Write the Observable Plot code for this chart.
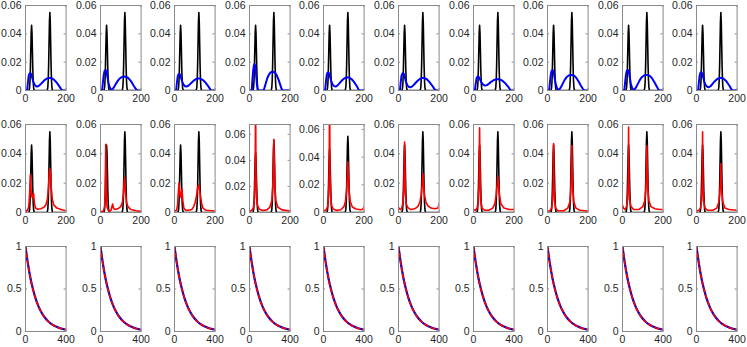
<!DOCTYPE html>
<html>
<head>
<meta charset="utf-8">
<script src="https://cdn.jsdelivr.net/npm/d3@7"></script>
<script src="https://cdn.jsdelivr.net/npm/@observablehq/plot@0.6"></script>
<style>
  html, body { margin: 0; padding: 0; background: #fff; }
  #chart { position: relative; width: 747px; height: 347px; overflow: hidden; background: #fff; }
  #chart svg { position: absolute; overflow: visible; }
</style>
</head>
<body>
<div id="chart"></div>
<script>
// ---------- data ----------
const yTicksDensity = [0, 0.02, 0.04, 0.06];
const xTicksDensity = [0, 200];
const yTicksDecay = [0, 0.5, 1];
const xTicksDecay = [0, 400];
const row2YMax = [0.06, 0.06, 0.06, 0.0675, 0.0636, 0.06, 0.06, 0.06, 0.06, 0.06];

// true density (black), shared in rows 1 and 2
const blackX = [0,16,18,20,22,24,26,28,30,32,34,36,38,40,42,44,106,108,110,112,114,116,118,120,122,124,126,128,130,132,134,200];
const blackY = [0,0,0.0005,0.0020,0.0062,0.0149,0.0279,0.0406,0.046,0.0406,0.0279,0.0149,0.0062,0.0020,0.0005,0,0,0.0006,0.0024,0.0074,0.0179,0.0334,0.0485,0.055,0.0485,0.0334,0.0179,0.0074,0.0024,0.0006,0,0];

// row 1 estimates (blue)
const blue1 = [[0,0],[8,0],[12,0.006],[16,0.0105],[20,0.0120],[24,0.0122],[28,0.0115],[32,0.0095],[38,0.0065],[45,0.0040],[52,0.0030],[58,0.0028],[66,0.0033],[75,0.0045],[85,0.0060],[95,0.0074],[105,0.0084],[115,0.0089],[122,0.0089],[130,0.0086],[140,0.0077],[150,0.0062],[160,0.0043],[170,0.0022],[177,0.0006],[180,0],[200,0]];
const blue2 = [[0,0],[8,0],[12,0.006],[16,0.011],[20,0.0138],[25,0.0145],[30,0.0132],[35,0.009],[40,0.005],[46,0.002],[52,0.0007],[58,0.0008],[65,0.002],[75,0.0045],[85,0.0068],[95,0.0085],[105,0.0095],[115,0.0098],[125,0.0097],[135,0.009],[145,0.0075],[155,0.0055],[165,0.003],[175,0.001],[180,0],[200,0]];
const blue3 = [[0,0],[8,0],[12,0.0058],[16,0.010],[20,0.0115],[24,0.0117],[28,0.011],[32,0.009],[38,0.0063],[45,0.0040],[52,0.0030],[58,0.0028],[66,0.0032],[75,0.0043],[85,0.0057],[95,0.0070],[105,0.0080],[115,0.0085],[122,0.0085],[130,0.0082],[140,0.0074],[150,0.006],[160,0.0042],[170,0.0022],[177,0.0006],[180,0],[200,0]];
const blue4 = [[0,0],[11,0],[14,0.007],[18,0.014],[22,0.0180],[25,0.0187],[28,0.0175],[32,0.012],[36,0.005],[40,0.0005],[42,0],[68,0],[72,0.001],[80,0.005],[88,0.0088],[96,0.0113],[104,0.0127],[112,0.0133],[120,0.0131],[128,0.0121],[136,0.0102],[144,0.0073],[152,0.0038],[158,0.0012],[162,0],[200,0]];
const blue5 = [[0,0],[8,0],[12,0.0062],[16,0.011],[20,0.0126],[24,0.0128],[28,0.012],[32,0.0099],[38,0.0068],[45,0.0042],[52,0.0031],[60,0.0028],[68,0.0034],[77,0.0048],[87,0.0065],[97,0.0079],[107,0.0089],[117,0.0093],[124,0.0092],[132,0.0087],[142,0.0075],[152,0.0057],[162,0.0035],[170,0.0015],[175,0],[200,0]];
const blue6 = [[0,0],[7,0],[11,0.006],[15,0.0105],[19,0.012],[23,0.0122],[27,0.0114],[31,0.0093],[37,0.006],[44,0.0035],[52,0.0025],[60,0.0023],[68,0.0029],[77,0.0042],[87,0.0058],[97,0.0072],[107,0.0083],[117,0.0089],[124,0.0089],[132,0.0085],[142,0.0076],[152,0.0061],[162,0.0042],[172,0.0022],[179,0.0006],[182,0],[200,0]];
const blue7 = [[0,0],[7,0],[11,0.005],[15,0.0085],[19,0.0097],[23,0.0098],[27,0.0093],[32,0.0078],[38,0.006],[45,0.0045],[52,0.0037],[58,0.0035],[66,0.0038],[75,0.0047],[85,0.0059],[95,0.0069],[105,0.0076],[115,0.0080],[125,0.0079],[135,0.0075],[145,0.0066],[155,0.0053],[165,0.0036],[175,0.0018],[181,0.0005],[184,0],[200,0]];
const blue8 = [[0,0],[8,0],[12,0.006],[16,0.011],[20,0.0138],[25,0.0145],[30,0.0132],[35,0.009],[40,0.005],[46,0.002],[52,0.0006],[57,0.0005],[64,0.0018],[74,0.0045],[84,0.0073],[94,0.0094],[104,0.0106],[114,0.011],[124,0.0109],[134,0.0101],[144,0.0085],[154,0.0062],[164,0.0035],[174,0.0012],[180,0],[200,0]];
const blue9 = [[0,0],[9,0],[13,0.006],[17,0.011],[21,0.0138],[26,0.0145],[31,0.0132],[36,0.009],[41,0.005],[47,0.002],[53,0.0006],[58,0.0005],[65,0.0018],[75,0.0045],[85,0.0073],[95,0.0094],[106,0.0106],[116,0.011],[126,0.0109],[136,0.0101],[146,0.0085],[156,0.0062],[166,0.0035],[175,0.0012],[180,0],[200,0]];
const blue10 = [[0,0],[8,0],[12,0.0062],[16,0.011],[20,0.0127],[24,0.0129],[28,0.012],[32,0.0098],[38,0.0065],[45,0.0038],[53,0.0026],[61,0.0023],[69,0.003],[78,0.0045],[88,0.0062],[98,0.0076],[108,0.0085],[118,0.0089],[125,0.0088],[133,0.0083],[143,0.0071],[153,0.0053],[163,0.0032],[170,0.0014],[175,0],[200,0]];

// row 2 estimates (red)
const red1 = [[0,0.0008],[10,0.0015],[16,0.004],[20,0.012],[24,0.0256],[28,0.014],[32,0.0105],[36,0.0105],[40,0.013],[44,0.006],[50,0.003],[60,0.0022],[75,0.0025],[90,0.0035],[100,0.005],[108,0.009],[113,0.017],[117,0.027],[120,0.030],[123,0.027],[127,0.017],[132,0.009],[140,0.005],[155,0.003],[175,0.002],[200,0.0012]];
const red2 = [[0,0.0005],[15,0.001],[20,0.004],[23,0.015],[26,0.0465],[29,0.015],[32,0.004],[38,0.0015],[45,0.001],[52,0.0015],[56,0.004],[60,0.0057],[64,0.003],[70,0.002],[85,0.0025],[100,0.004],[108,0.007],[113,0.013],[118,0.024],[123,0.014],[128,0.007],[135,0.004],[150,0.002],[175,0.0012],[200,0.0008]];
const red3 = [[0,0.001],[10,0.0015],[15,0.005],[18,0.012],[22,0.020],[26,0.013],[30,0.0105],[34,0.014],[37,0.016],[41,0.008],[46,0.003],[55,0.0015],[70,0.0015],[85,0.002],[95,0.004],[102,0.007],[108,0.011],[113,0.016],[118,0.0188],[123,0.016],[128,0.011],[134,0.006],[140,0.003],[155,0.0015],[200,0.001]];
const red4 = [[0,0.001],[12,0.0018],[20,0.004],[25,0.012],[28,0.03],[30,0.085],[32,0.03],[35,0.012],[40,0.005],[48,0.0025],[65,0.0015],[85,0.002],[100,0.004],[110,0.009],[115,0.02],[118,0.04],[120,0.0562],[122,0.04],[125,0.02],[130,0.009],[140,0.004],[160,0.002],[185,0.0015],[200,0.0012]];
const red5 = [[0,0.001],[12,0.0018],[20,0.004],[25,0.012],[28,0.03],[30,0.09],[32,0.03],[35,0.012],[40,0.005],[48,0.0025],[65,0.0015],[85,0.002],[100,0.004],[108,0.008],[114,0.016],[117,0.026],[120,0.0364],[123,0.026],[126,0.016],[132,0.008],[142,0.004],[160,0.0025],[185,0.002],[196,0.0025],[200,0.0045]];
const red6 = [[0,0.0035],[5,0.0025],[10,0.002],[16,0.003],[22,0.007],[26,0.015],[30,0.048],[34,0.012],[38,0.006],[45,0.0035],[60,0.002],[80,0.0025],[95,0.004],[105,0.007],[112,0.012],[116,0.018],[120,0.0263],[124,0.018],[128,0.012],[135,0.007],[145,0.0045],[160,0.003],[180,0.0025],[195,0.003],[200,0.0065]];
const red7 = [[0,0.002],[10,0.0015],[18,0.003],[24,0.008],[27,0.02],[30,0.0577],[33,0.02],[36,0.008],[42,0.003],[55,0.0015],[75,0.0015],[95,0.003],[105,0.006],[112,0.012],[116,0.018],[120,0.0247],[124,0.018],[128,0.012],[135,0.006],[150,0.003],[175,0.002],[196,0.002],[200,0.003]];
const red8 = [[0,0.001],[12,0.0012],[20,0.003],[25,0.008],[28,0.02],[30,0.047],[32,0.02],[35,0.008],[40,0.003],[50,0.0012],[80,0.0012],[100,0.003],[110,0.007],[115,0.015],[118,0.03],[120,0.0454],[122,0.03],[125,0.015],[130,0.007],[140,0.003],[160,0.0015],[200,0.001]];
const red9 = [[0,0.005],[5,0.003],[12,0.002],[20,0.004],[25,0.009],[28,0.02],[30,0.0582],[32,0.02],[35,0.009],[42,0.004],[55,0.002],[80,0.002],[100,0.004],[110,0.008],[115,0.016],[118,0.03],[120,0.0454],[122,0.03],[125,0.016],[130,0.008],[140,0.004],[160,0.0025],[185,0.002],[200,0.002]];
const red10 = [[0,0.001],[12,0.0015],[20,0.003],[25,0.008],[28,0.02],[30,0.055],[32,0.02],[35,0.008],[42,0.003],[55,0.0015],[80,0.0015],[100,0.003],[110,0.007],[115,0.013],[118,0.022],[120,0.0332],[122,0.022],[125,0.013],[130,0.007],[140,0.003],[160,0.002],[200,0.0015]];

// row 3 (decay curves, identical in each panel)
const decayX = [0,25,50,75,100,125,150,175,200,225,250,275,300,325,350,375,400];
const decayBlue = [1,0.788,0.621,0.490,0.386,0.304,0.240,0.189,0.149,0.117,0.0925,0.0729,0.0574,0.0453,0.0357,0.0281,0.0222];
const decayRed  = [1,0.788,0.621,0.490,0.386,0.304,0.240,0.189,0.149,0.117,0.0925,0.0729,0.0574,0.0453,0.0357,0.0281,0.0222];

const blues = [blue1, blue2, blue3, blue4, blue5, blue6, blue7, blue8, blue9, blue10];
const reds = [red1, red2, red3, red4, red5, red6, red7, red8, red9, red10];

// ---------- drawing ----------
const black = blackX.map((x, i) => [x, blackY[i]]);
const decayB = decayX.map((x, i) => [x, decayBlue[i]]);
const decayR = decayX.map((x, i) => [x, decayRed[i]]);

const chart = document.getElementById("chart");
const PW = 74.6, ML = 25, MR = 9;
const rows = [
  {top: 0,   height: 110, mt: 5,  mb: 20},
  {top: 112, height: 120, mt: 12, mb: 20},
  {top: 232, height: 115, mt: 14, mb: 16}
];
const axisColor = "#262626";
const frameColor = "#8a8a8a";
const fmt = d => d === 0 ? "0" : String(d);

function panel(r, c, xDomain, yDomain, xTicks, yTicks, lines) {
  const R = rows[r];
  const plotW = PW - ML - MR;
  const plotH = R.height - R.mt - R.mb;
  const svg = Plot.plot({
    width: PW, height: R.height,
    marginLeft: ML, marginRight: MR, marginTop: R.mt, marginBottom: R.mb,
    style: {fontFamily: "'Liberation Sans', Arial, sans-serif", fontSize: "10.5px", color: axisColor, background: "transparent", overflow: "visible"},
    x: {domain: xDomain},
    y: {domain: yDomain},
    marks: [
      ...lines,
      Plot.frame({stroke: frameColor, strokeWidth: 1}),
      Plot.tickY(yTicks, {y: d => d, insetRight: plotW - 2, stroke: frameColor}),
      Plot.tickY(yTicks, {y: d => d, insetLeft: plotW - 2, stroke: frameColor}),
      Plot.tickX(xTicks, {x: d => d, insetTop: plotH - 2, stroke: frameColor}),
      Plot.tickX(xTicks, {x: d => d, insetBottom: plotH - 2, stroke: frameColor}),
      Plot.axisY({ticks: yTicks, tickSize: 0, tickPadding: 4, tickFormat: fmt, label: null, fill: axisColor}),
      Plot.axisX({ticks: xTicks, tickSize: 0, tickPadding: 4, tickFormat: fmt, label: null, fill: axisColor})
    ]
  });
  svg.style.left = (c * 74.6) + "px";
  svg.style.top = R.top + "px";
  chart.appendChild(svg);
}

for (let c = 0; c < 10; c++) {
  panel(0, c, [0, 200], [0, 0.06], xTicksDensity, yTicksDensity, [
    Plot.line(black, {x: d => d[0], y: d => d[1], stroke: "#000", strokeWidth: 1.6, clip: true}),
    Plot.line(blues[c], {x: d => d[0], y: d => d[1], stroke: "#0000ff", strokeWidth: 2, clip: true})
  ]);
  panel(1, c, [0, 200], [0, row2YMax[c]], xTicksDensity, yTicksDensity, [
    Plot.line(black, {x: d => d[0], y: d => d[1], stroke: "#000", strokeWidth: 1.6, clip: true}),
    Plot.line(reds[c], {x: d => d[0], y: d => d[1], stroke: "#ff0000", strokeWidth: 1.6, clip: true})
  ]);
  panel(2, c, [0, 400], [0, 1], xTicksDecay, yTicksDecay, [
    Plot.line(decayB, {x: d => d[0], y: d => d[1], stroke: "#0000cc", strokeWidth: 2.2, curve: "monotone-x", clip: true}),
    Plot.line(decayR, {x: d => d[0], y: d => d[1], stroke: "#ff0000", strokeWidth: 1.6, strokeDasharray: "4,3", curve: "monotone-x", clip: true})
  ]);
}
</script>
</body>
</html>
